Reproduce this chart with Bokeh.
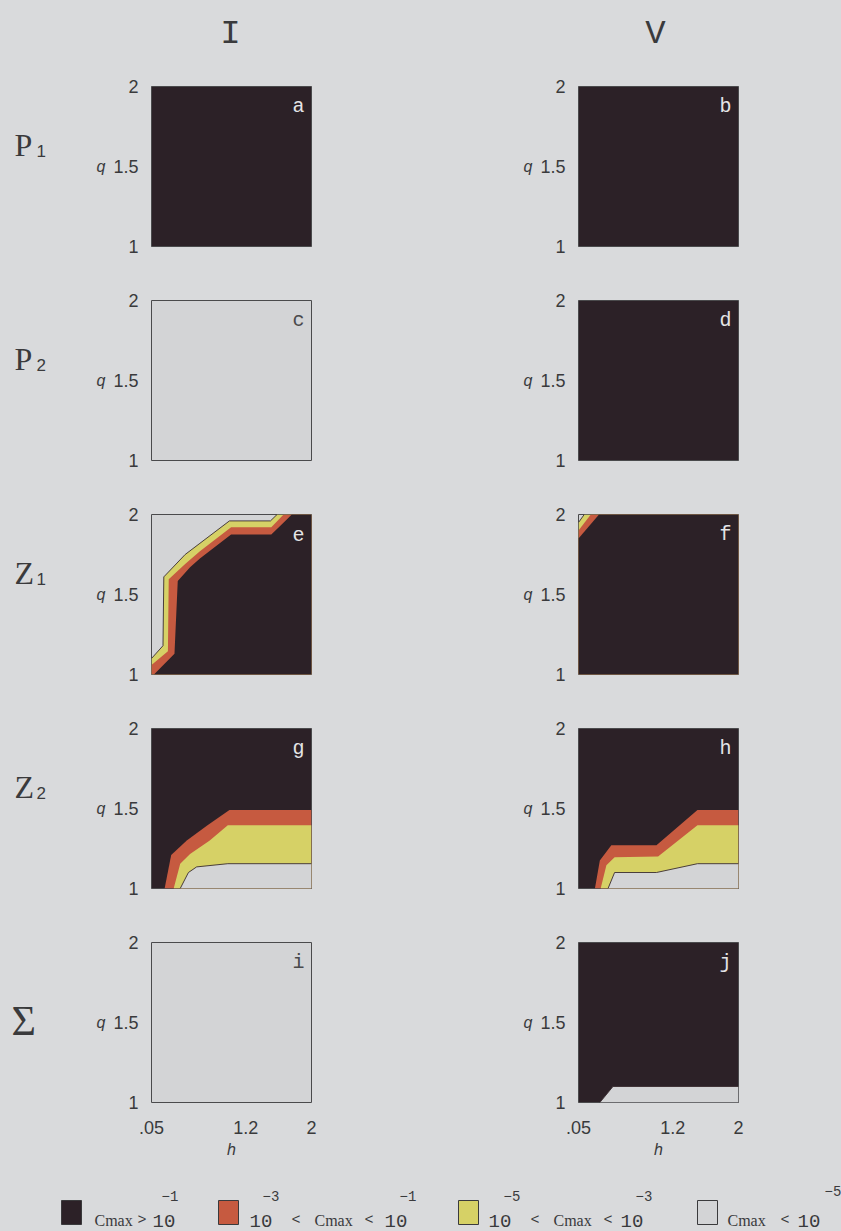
from bokeh.plotting import figure
from bokeh.models import Range1d, FixedTicker, Label
from bokeh.layouts import column, row
from bokeh.core.properties import value
from bokeh.embed import file_html
from bokeh.resources import INLINE

# ---------------------------------------------------------------- data
H_MIN, H_MAX = 0.05, 2.0
Q_MIN, Q_MAX = 1.0, 2.0

h_ticks = [0.05, 1.2, 2.0]
h_tick_labels = [".05", "1.2", "2"]
q_ticks = [1.0, 1.5, 2.0]
q_tick_labels = ["1", "1.5", "2"]

column_titles = ["I", "V"]
row_names = ["P", "P", "Z", "Z", "\u03a3"]
row_subscripts = ["1", "2", "1", "2", ""]

panel_letters = ["a", "b", "c", "d", "e", "f", "g", "h", "i", "j"]
# class filling each panel before any contour band is laid over it
panel_background = ["dark", "dark", "white", "dark", "white",
                    "white", "dark", "dark", "white", "dark"]

# contour lines in the (h, q) plane; each band fills the side to the right
# of its line (walked from its first to its last point)
e_yellow_h = [0.05, 0.19, 0.20, 0.46, 0.64, 1.00, 1.50, 1.58]
e_yellow_q = [1.10, 1.18, 1.61, 1.75, 1.82, 1.96, 1.96, 2.00]
e_red_h = [0.05, 0.25, 0.26, 0.46, 0.64, 1.02, 1.51, 1.66]
e_red_q = [1.06, 1.145, 1.595, 1.69, 1.77, 1.92, 1.92, 2.00]
e_dark_h = [0.08, 0.33, 0.37, 0.52, 0.64, 1.02, 1.51, 1.68, 1.76]
e_dark_q = [1.00, 1.13, 1.585, 1.67, 1.725, 1.875, 1.875, 1.96, 2.00]

f_yellow_h = [0.05, 0.12]
f_yellow_q = [1.95, 2.00]
f_red_h = [0.05, 0.20]
f_red_q = [1.90, 2.00]
f_dark_h = [0.05, 0.30]
f_dark_q = [1.85, 2.00]

g_red_h = [0.21, 0.29, 0.48, 0.72, 1.00, 2.00]
g_red_q = [1.00, 1.21, 1.30, 1.39, 1.49, 1.49]
g_yellow_h = [0.32, 0.40, 0.52, 0.76, 0.98, 2.00]
g_yellow_q = [1.00, 1.155, 1.215, 1.30, 1.395, 1.395]
g_white_h = [0.40, 0.50, 0.60, 0.98, 2.00]
g_white_q = [1.00, 1.10, 1.135, 1.155, 1.155]

h_red_h = [0.25, 0.31, 0.45, 1.00, 1.50, 2.00]
h_red_q = [1.00, 1.175, 1.27, 1.27, 1.49, 1.49]
h_yellow_h = [0.32, 0.39, 0.49, 1.02, 1.50, 2.00]
h_yellow_q = [1.00, 1.145, 1.195, 1.20, 1.395, 1.395]
h_white_h = [0.41, 0.49, 1.00, 1.50, 2.00]
h_white_q = [1.00, 1.10, 1.10, 1.155, 1.155]

j_white_h = [0.31, 0.47, 2.00]
j_white_q = [1.00, 1.10, 1.10]

panel_bands = {
    "e": [("yellow", e_yellow_h, e_yellow_q), ("red", e_red_h, e_red_q),
          ("dark", e_dark_h, e_dark_q)],
    "f": [("yellow", f_yellow_h, f_yellow_q), ("red", f_red_h, f_red_q),
          ("dark", f_dark_h, f_dark_q)],
    "g": [("red", g_red_h, g_red_q), ("yellow", g_yellow_h, g_yellow_q),
          ("white", g_white_h, g_white_q)],
    "h": [("red", h_red_h, h_red_q), ("yellow", h_yellow_h, h_yellow_q),
          ("white", h_white_h, h_white_q)],
    "j": [("white", j_white_h, j_white_q)],
}

legend_classes = ["dark", "red", "yellow", "white"]

# ---------------------------------------------------------------- style
PAPER = "#d9dadc"
INK = "#3a3a3c"
CLASS_COLORS = {"dark": "#2c2127", "red": "#c65a40",
                "yellow": "#d6d166", "white": "#d3d4d6"}
MONO = "Liberation Mono"
SANS = "Liberation Sans"
SERIF = "Liberation Serif"

FRAME = 160
HEADER_H = 72
ROW_H = 214
LAST_ROW_H = 234
KEY_H = 69
NAME_W = 60


def frame_pos(h, q):
    """Clockwise distance along the frame, starting at its top-left corner."""
    w, hq = H_MAX - H_MIN, Q_MAX - Q_MIN
    if abs(q - Q_MAX) < 1e-9:
        return h - H_MIN
    if abs(h - H_MAX) < 1e-9:
        return w + (Q_MAX - q)
    if abs(q - Q_MIN) < 1e-9:
        return w + hq + (H_MAX - h)
    return 2 * w + hq + (q - Q_MIN)


def close_band(hs, qs):
    """Close a contour line into a polygon by walking the frame clockwise."""
    w, hq = H_MAX - H_MIN, Q_MAX - Q_MIN
    perim = 2 * (w + hq)
    corners = [(H_MAX, Q_MAX), (H_MAX, Q_MIN), (H_MIN, Q_MIN), (H_MIN, Q_MAX)]
    t_end = frame_pos(hs[-1], qs[-1])
    span = (frame_pos(hs[0], qs[0]) - t_end) % perim
    picked = []
    for ch, cq in corners:
        d = (frame_pos(ch, cq) - t_end) % perim
        if 0 < d < span:
            picked.append((d, ch, cq))
    picked.sort()
    return list(hs) + [c[1] for c in picked], list(qs) + [c[2] for c in picked]


def blank(width, height):
    """A bare canvas whose data units are pixels measured from the top left."""
    p = figure(frame_width=width, frame_height=height, title=None,
               x_range=Range1d(0, width), y_range=Range1d(height, 0),
               x_axis_type=None, y_axis_type=None, min_border=0,
               output_backend="svg", toolbar_location=None)
    p.background_fill_color = PAPER
    p.border_fill_color = PAPER
    p.outline_line_color = None
    p.grid.visible = False
    return p


def make_panel(idx):
    r, c = divmod(idx, 2)
    letter = panel_letters[idx]
    bg = panel_background[idx]
    last = r == len(row_names) - 1

    p = figure(frame_width=FRAME, frame_height=FRAME, title=None,
               x_range=Range1d(H_MIN, H_MAX), y_range=Range1d(Q_MIN, Q_MAX),
               min_border_left=91 if c == 0 else 148,
               min_border_right=119 if c == 0 else 103,
               min_border_top=14,
               min_border_bottom=(LAST_ROW_H if last else ROW_H) - FRAME - 14,
               output_backend="svg", toolbar_location=None)
    p.background_fill_color = CLASS_COLORS[bg]
    p.border_fill_color = PAPER
    p.outline_line_color = "#4a4a4c"
    p.outline_line_width = 1
    p.grid.visible = False

    below = bg
    bands = panel_bands.get(letter, [])
    for cls, hs, qs in bands:
        px, py = close_band(hs, qs)
        p.patch(px, py, fill_color=CLASS_COLORS[cls], line_color=None)
        if "white" in (cls, below):
            p.line(hs, qs, line_color="#3a2c30", line_width=0.9)
        below = cls

    yax = p.yaxis[0]
    yax.ticker = FixedTicker(ticks=q_ticks)
    yax.major_label_overrides = dict(zip(q_ticks, q_tick_labels))
    yax.major_tick_line_color = None
    yax.minor_tick_line_color = None
    yax.axis_line_color = None
    yax.major_label_standoff = 7
    yax.major_label_text_font = SANS
    yax.major_label_text_font_size = "18px"
    yax.major_label_text_color = INK
    yax.axis_label = "q"
    yax.axis_label_orientation = "horizontal"
    yax.axis_label_standoff = 5
    yax.axis_label_text_font = SANS
    yax.axis_label_text_font_style = "italic"
    yax.axis_label_text_font_size = "16px"
    yax.axis_label_text_color = INK

    xax = p.xaxis[0]
    if last:
        xax.ticker = FixedTicker(ticks=h_ticks)
        xax.major_label_overrides = dict(zip(h_ticks, h_tick_labels))
        xax.major_tick_line_color = None
        xax.minor_tick_line_color = None
        xax.axis_line_color = None
        xax.major_label_standoff = 12
        xax.major_label_text_font = SANS
        xax.major_label_text_font_size = "18px"
        xax.major_label_text_color = INK
        xax.axis_label = "h"
        xax.axis_label_text_font = SANS
        xax.axis_label_text_font_style = "italic"
        xax.axis_label_text_font_size = "16px"
        xax.axis_label_text_color = INK
        xax.axis_label_standoff = 4
    else:
        xax.visible = False

    # panel letter in the upper right corner; light wherever dark fills it
    classes = {bg} | {b[0] for b in bands}
    p.add_layout(Label(x=H_MAX, y=Q_MAX, x_offset=-7, y_offset=-20, text=letter,
                       text_font=MONO, text_font_size="20px",
                       text_color="#e4e4e6" if "dark" in classes else "#4a4a4c",
                       text_align="right", text_baseline="alphabetic"))
    return p


def make_row_name(r):
    height = LAST_ROW_H if r == len(row_names) - 1 else ROW_H
    p = blank(NAME_W, height)
    name, sub = row_names[r], row_subscripts[r]
    if sub:
        p.text(x=[14], y=[58], text=[name], text_font=value(SERIF),
               text_font_size="32px", text_color=INK,
               text_align="left", text_baseline="alphabetic")
        p.text(x=[36], y=[64], text=[sub], text_font=value(SANS),
               text_font_size="17px", text_color=INK,
               text_align="left", text_baseline="alphabetic")
    else:
        p.text(x=[11], y=[78], text=[name], text_font=value(SERIF),
               text_font_size="42px", text_color=INK,
               text_align="left", text_baseline="alphabetic")
    return p


# ---------------------------------------------------------------- header
header = blank(841, HEADER_H)
header.text(x=[230, 655], y=[33, 33], text=column_titles, text_font=value(MONO),
            text_font_size="34px", text_color=INK,
            text_align="center", text_baseline="alphabetic")

panels = [make_panel(i) for i in range(len(panel_letters))]
rows = [row(make_row_name(k), panels[2 * k], panels[2 * k + 1])
        for k in range(len(row_names))]

# ---------------------------------------------------------------- key
leg = blank(841, KEY_H)
swatch_x = [71, 228, 468, 707]
leg.rect(x=swatch_x, y=50, width=20, height=24,
         fill_color=[CLASS_COLORS[k] for k in legend_classes],
         line_color="#3a3a3c", line_width=1)

key_pieces = [
    ("Cmax", 94, "word"), (">", 137, "sym"), ("10", 152, "num"), ("\u22121", 161, "sup"),
    ("10", 249, "num"), ("\u22123", 262, "sup"), ("<", 291, "sym"), ("Cmax", 314, "word"),
    ("<", 364, "sym"), ("10", 384, "num"), ("\u22121", 399, "sup"),
    ("10", 488, "num"), ("\u22125", 503, "sup"), ("<", 530, "sym"), ("Cmax", 553, "word"),
    ("<", 603, "sym"), ("10", 620, "num"), ("\u22123", 635, "sup"),
    ("Cmax", 727, "word"), ("<", 780, "sym"), ("10", 797, "num"), ("\u22125", 824, "hisup"),
]
piece_style = {
    "word": (SERIF, "16px", 58),
    "sym": (MONO, "15px", 58),
    "num": (MONO, "19px", 58),
    "sup": (MONO, "14px", 33),
    "hisup": (MONO, "14px", 28),
}
for kind, (font, size, base) in piece_style.items():
    sel = [pc for pc in key_pieces if pc[2] == kind]
    leg.text(x=[pc[1] for pc in sel], y=[base] * len(sel), text=[pc[0] for pc in sel],
             text_font=value(font), text_font_size=size, text_color=INK,
             text_align="left", text_baseline="alphabetic")

layout = column(header, *rows, leg)

html = file_html(layout, INLINE)
page_css = "<style>html,body{margin:0;padding:0;background:%s;}</style>" % PAPER
html = html.replace("</head>", page_css + "</head>", 1)
open("out.html", "w").write(html)
